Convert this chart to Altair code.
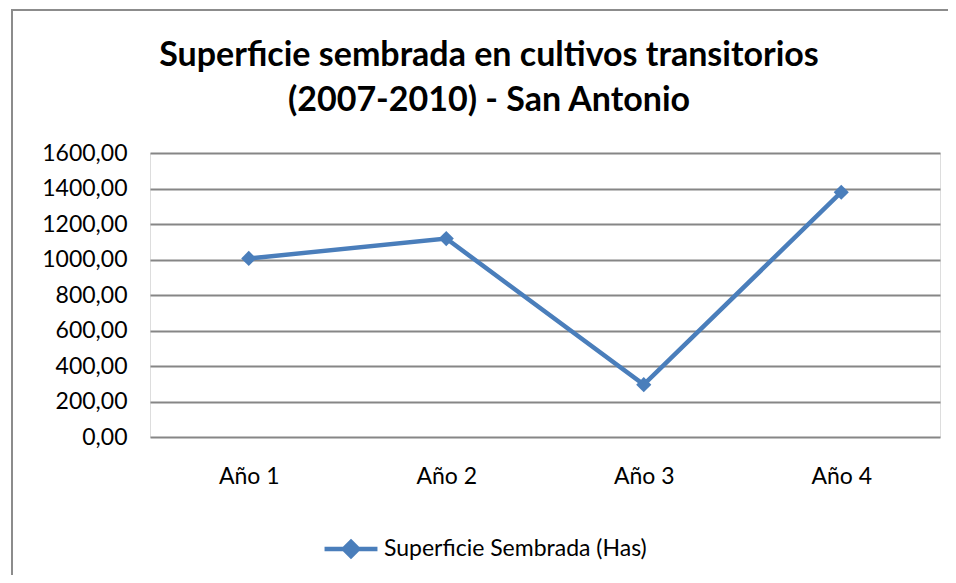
import altair as alt
import pandas as pd

categories = ["Año 1", "Año 2", "Año 3", "Año 4"]
values = [1006, 1118, 295, 1379]
series_name = "Superficie Sembrada (Has)"
y_ticks = [0, 200, 400, 600, 800, 1000, 1200, 1400, 1600]
title_lines = ["Superficie sembrada en cultivos transitorios", "(2007-2010) - San Antonio"]

BLUE = "#4A7EBB"
GRID = "#868686"
FONT = "Lato"

df = pd.DataFrame({"cat": categories, "val": values, "serie": [series_name] * len(categories)})

line = alt.Chart(df).mark_line(
    strokeWidth=4.5,
    point=alt.OverlayMarkDef(shape="diamond", size=230, filled=True, color=BLUE, opacity=1),
).encode(
    x=alt.X("cat:N", sort=categories, scale=alt.Scale(type="point", padding=0.5),
            axis=alt.Axis(title=None, labelAngle=0, domain=False, ticks=False, grid=False,
                          labelPadding=28, labelFontSize=23, labelFont=FONT, labelColor="#000000")),
    y=alt.Y("val:Q", scale=alt.Scale(domain=[0, 1600], nice=False),
            axis=alt.Axis(title=None, values=y_ticks, domain=False, ticks=False,
                          gridColor=GRID, gridWidth=1.8, gridOpacity=1,
                          labelExpr="replace(format(datum.value, '.2f'), '.', ',')",
                          labelPadding=23, labelFontSize=23, labelFont=FONT, labelColor="#000000")),
    color=alt.Color("serie:N", scale=alt.Scale(range=[BLUE]),
                    legend=alt.Legend(title=None, orient="none", legendX=172, legendY=367,
                                      symbolType="M-1,0L1,0M0,-0.27L0.27,0L0,0.27L-0.27,0Z",
                                      symbolSize=2800, symbolStrokeWidth=4.5,
                                      symbolFillColor=BLUE, symbolStrokeColor=BLUE,
                                      labelFontSize=23, labelFont=FONT, labelColor="#000000",
                                      labelOffset=4, labelLimit=500)),
)

frame = alt.Chart(alt.Data(values=[{"a": 1}])).mark_rect(
    fill=None, stroke="#8C8C8C", strokeWidth=2
).encode(
    x=alt.value(-138), x2=alt.value(830), y=alt.value(-143), y2=alt.value(600)
)

chart = alt.layer(frame, line).properties(
    width=790, height=284,
    padding={"left": 142, "top": 145, "right": 8, "bottom": 138},
    autosize=alt.AutoSizeParams(type="none"),
    title=alt.Title(title_lines, anchor="middle", frame="group", dx=-56, offset=-143,
                    fontSize=34, font=FONT, fontWeight="bold", color="#000000",
                    lineHeight=45, baseline="bottom"),
).configure_view(stroke=None).configure(background="white")

chart.save("out.html", embed_options={"renderer": "svg", "actions": False})
